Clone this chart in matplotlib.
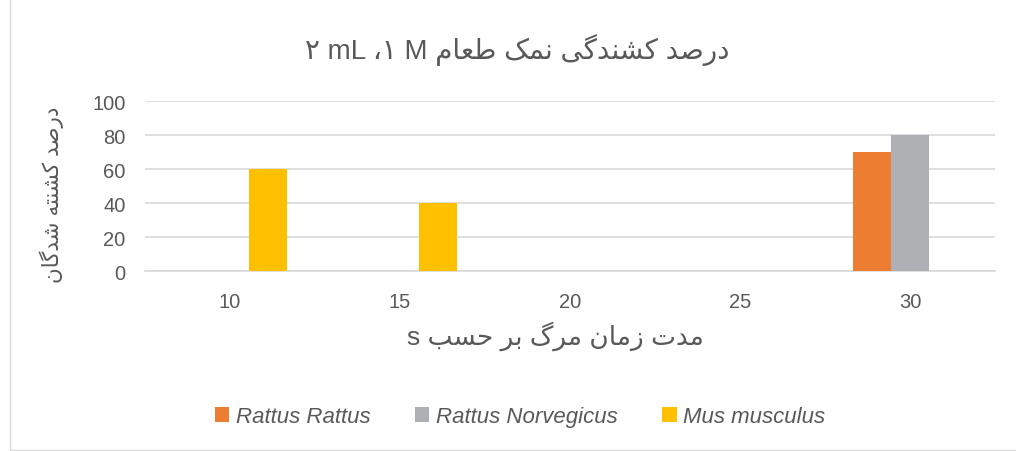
import matplotlib

matplotlib.use("Agg")

import matplotlib.pyplot as plt
import numpy as np
from matplotlib.patches import Rectangle

categories = ["10", "15", "20", "25", "30"]
series_names = ["Rattus Rattus", "Rattus Norvegicus", "Mus musculus"]
rattus_rattus = [0, 0, 0, 0, 70]
rattus_norvegicus = [0, 0, 0, 0, 80]
mus_musculus = [60, 40, 0, 0, 0]
colors = ["#ED7D31", "#AFB0B4", "#FFC000"]

title_fa = "درصد کشندگی نمک طعام"
ylabel_fa = "درصد کشنته شدگان"
xlabel_fa = "مدت زمان مرگ بر حسب"

# presentation forms: isolated, final, initial, medial
FORMS = {
    "ا": (0xFE8D, 0xFE8E), "د": (0xFEA9, 0xFEAA), "ر": (0xFEAD, 0xFEAE),
    "ز": (0xFEAF, 0xFEB0), "ب": (0xFE8F, 0xFE90, 0xFE91, 0xFE92),
    "ت": (0xFE95, 0xFE96, 0xFE97, 0xFE98), "ح": (0xFEA1, 0xFEA2, 0xFEA3, 0xFEA4),
    "س": (0xFEB1, 0xFEB2, 0xFEB3, 0xFEB4), "ش": (0xFEB5, 0xFEB6, 0xFEB7, 0xFEB8),
    "ص": (0xFEB9, 0xFEBA, 0xFEBB, 0xFEBC), "ط": (0xFEC1, 0xFEC2, 0xFEC3, 0xFEC4),
    "ع": (0xFEC9, 0xFECA, 0xFECB, 0xFECC), "ک": (0xFB8E, 0xFB8F, 0xFB90, 0xFB91),
    "گ": (0xFB92, 0xFB93, 0xFB94, 0xFB95), "ل": (0xFEDD, 0xFEDE, 0xFEDF, 0xFEE0),
    "م": (0xFEE1, 0xFEE2, 0xFEE3, 0xFEE4), "ن": (0xFEE5, 0xFEE6, 0xFEE7, 0xFEE8),
    "ه": (0xFEE9, 0xFEEA, 0xFEEB, 0xFEEC), "ی": (0xFBFC, 0xFBFD, 0xFBFE, 0xFBFF),
}


def shape(text):
    out = []
    for i, ch in enumerate(text):
        if ch not in FORMS:
            out.append(ch)
            continue
        prev = text[i - 1] if i > 0 else ""
        nxt = text[i + 1] if i + 1 < len(text) else ""
        jp = prev in FORMS and len(FORMS[prev]) == 4
        jn = len(FORMS[ch]) == 4 and nxt in FORMS
        f = FORMS[ch]
        if jp and jn:
            c = f[3]
        elif jp:
            c = f[1]
        elif jn:
            c = f[2]
        else:
            c = f[0]
        out.append(chr(c))
    return "".join(out)[::-1]


FAM = ["Liberation Sans", "DejaVu Sans"]
plt.rcParams["font.family"] = FAM
TXT = "#595959"

fig = plt.figure(figsize=(10.16, 4.52), dpi=100)
fig.patches.append(Rectangle((10 / 1016, 0.003), 1.2, 1.2, transform=fig.transFigure,
                             fill=False, edgecolor="#d9d9d9", lw=1))
ax = fig.add_axes([145 / 1016, 1 - 272 / 452, 850 / 1016, 170 / 452])

x = np.arange(len(categories))
w = 0.224
for k, (vals, name) in enumerate(zip([rattus_rattus, rattus_norvegicus, mus_musculus], series_names)):
    ax.bar(x + (k - 1) * w, vals, w, color=colors[k], label=name, zorder=3)

ax.set_xlim(-0.5, len(categories) - 0.5)
ax.set_ylim(0, 100)
ax.set_yticks(np.arange(0, 101, 20))
ax.set_xticks(x)
ax.set_xticklabels(categories)
ax.grid(axis="y", color="#d9d9d9", lw=1.2, zorder=0)
for s in ["top", "right", "left"]:
    ax.spines[s].set_visible(False)
ax.spines["bottom"].set_color("#d9d9d9")
ax.spines["bottom"].set_linewidth(1.2)
ax.tick_params(length=0, labelsize=14.5, colors=TXT)
ax.tick_params(axis="y", pad=14)
ax.tick_params(axis="x", pad=15)

fig.text(0.509, 1 - 50 / 452, "۲ mL ،۱ M " + shape(title_fa), ha="center", va="center",
         fontsize=20, color=TXT, family=FAM)
fig.text(0.547, 1 - 336 / 452, "s " + shape(xlabel_fa), ha="center", va="center",
         fontsize=19, color=TXT, family=FAM)
fig.text(52 / 1016, 1 - 195 / 452, shape(ylabel_fa), ha="center", va="center",
         rotation=90, fontsize=15.5, color=TXT, family=FAM)

leg = fig.legend(loc="center", bbox_to_anchor=(0.512, 1 - 418 / 452), ncol=3, frameon=False,
                 prop={"family": FAM, "style": "italic", "size": 16},
                 handlelength=0.65, handleheight=0.65, handletextpad=0.3, columnspacing=2.0)
for t in leg.get_texts():
    t.set_color(TXT)

fig.savefig("out.png", dpi=100)
